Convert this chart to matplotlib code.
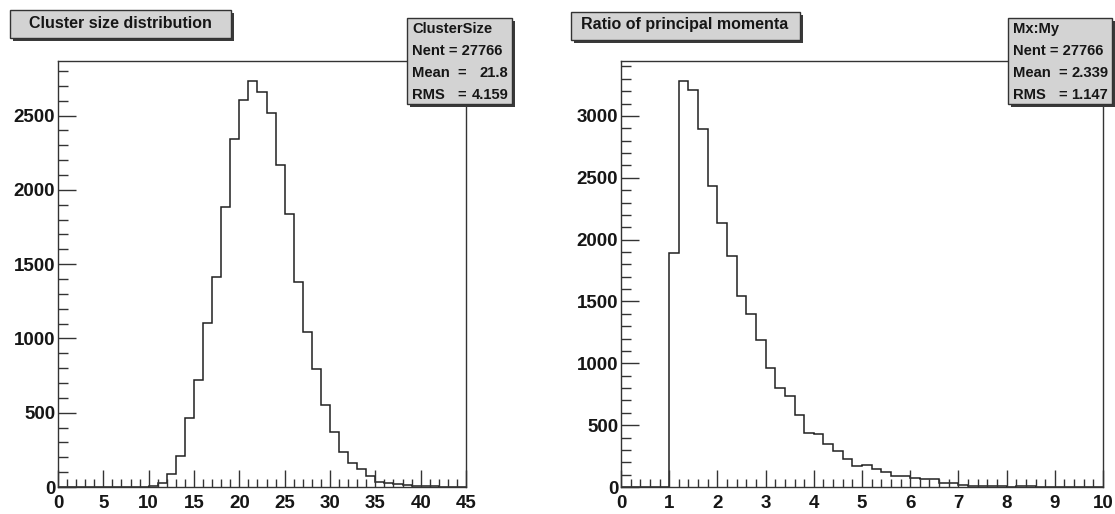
import matplotlib
matplotlib.use("Agg")
import matplotlib.pyplot as plt
import numpy as np
from matplotlib.patches import Rectangle
from matplotlib.ticker import MultipleLocator

# Cluster size histogram: unit bins from 0 to 45
size_edges = np.arange(0, 46, 1)
size_counts = [0, 0, 0, 0, 0, 0, 0, 0, 0, 0,
               7, 25, 85, 209, 463, 722, 1104, 1412, 1884, 2345,
               2608, 2731, 2657, 2518, 2169, 1839, 1378, 1045, 791, 551,
               371, 238, 162, 121, 72, 34, 30, 18, 12, 10,
               7, 5, 3, 2, 1]
size_stats = ["ClusterSize", "27766", "21.8", "4.159"]

# Ratio of principal momenta: 0.2 wide bins from 0 to 10
ratio_edges = np.round(np.arange(0, 10.01, 0.2), 1)
ratio_counts = [0, 0, 0, 0, 0,
                1895, 3280, 3210, 2891, 2435,
                2133, 1870, 1548, 1402, 1187,
                966, 804, 734, 580, 440,
                429, 351, 289, 227, 167,
                178, 148, 121, 92, 92,
                73, 62, 62, 30, 35,
                15, 10, 10, 8, 8,
                3, 10, 5, 4, 3,
                2, 1, 1, 1, 0]
ratio_stats = ["Mx:My", "27766", "2.339", "1.147"]

W, H = 1115, 514
BOLD = dict(family=["Liberation Sans", "DejaVu Sans"], weight="bold")
INK = "#161616"

fig = plt.figure(figsize=(W / 100, H / 100), dpi=100)
fig.patch.set_facecolor("white")


def frac(x0, y0, x1, y1):
    # pixel box (top-left origin) -> figure fraction rect
    return [x0 / W, 1 - y1 / H, (x1 - x0) / W, (y1 - y0) / H]


def box(x0, y0, x1, y1):
    sx, sy, sw, sh = frac(x0 + 3, y0 + 3, x1 + 3, y1 + 3)
    fig.patches.append(Rectangle((sx, sy), sw, sh, transform=fig.transFigure,
                                 facecolor="#3a3a3a", edgecolor="none", zorder=5))
    bx, by, bw, bh = frac(x0, y0, x1, y1)
    fig.patches.append(Rectangle((bx, by), bw, bh, transform=fig.transFigure,
                                 facecolor="#d3d3d3", edgecolor="#333333",
                                 linewidth=1.0, zorder=6))


def ftext(x, y, s, ha="left", size=10.6):
    fig.text(x / W, 1 - y / H, s, ha=ha, va="center", fontsize=size,
             color=INK, zorder=7, **BOLD)


def panel(rect, edges, counts, xmax, xmajor, xminor, ymajor):
    ax = fig.add_axes(frac(*rect))
    ax.stairs(counts, edges, baseline=0, color="#202020", linewidth=1.1)
    ax.set_xlim(0, xmax)
    ax.set_ylim(0, max(counts) * 1.05)
    ax.xaxis.set_major_locator(MultipleLocator(xmajor))
    ax.xaxis.set_minor_locator(MultipleLocator(xminor))
    ax.yaxis.set_major_locator(MultipleLocator(ymajor))
    ax.yaxis.set_minor_locator(MultipleLocator(ymajor / 5))
    ax.tick_params(which="both", direction="in", top=False, right=False,
                   color="#333333", width=1.0, labelsize=13.5, labelcolor=INK)
    ax.tick_params(axis="x", which="major", length=12, pad=6)
    ax.tick_params(axis="x", which="minor", length=6)
    ax.tick_params(axis="y", which="major", length=13, pad=2)
    ax.tick_params(axis="y", which="minor", length=7)
    for lab in ax.get_xticklabels() + ax.get_yticklabels():
        lab.set_fontweight("bold")
        lab.set_family(["Liberation Sans", "DejaVu Sans"])
    for sp in ax.spines.values():
        sp.set_color("#333333")
        sp.set_linewidth(1.0)
    return ax


ax1 = panel((58, 61, 466, 487), size_edges, size_counts, 45, 5, 1, 500)
ax2 = panel((621, 61, 1103, 487), ratio_edges, ratio_counts, 10, 1, 0.2, 500)

# title boxes
box(10, 10, 231, 38)
ftext(120, 23, "Cluster size distribution", ha="center", size=11.5)
box(571, 12, 800, 40)
ftext(685, 25, "Ratio of principal momenta", ha="center", size=11.5)


def stats(x0, x1, name, nent, mean, rms):
    box(x0, 18, x1, 104)
    ftext(x0 + 5, 29, name)
    ftext(x0 + 5, 51, "Nent = " + nent)
    ftext(x0 + 5, 73, "Mean")
    ftext(x0 + 5, 95, "RMS")
    ftext(x0 + 50, 73, "=")
    ftext(x0 + 50, 95, "=")
    ftext(x1 - 4, 73, mean, ha="right")
    ftext(x1 - 4, 95, rms, ha="right")


stats(407, 512, *size_stats)
stats(1008, 1112, *ratio_stats)

fig.savefig("out.png", dpi=100)
